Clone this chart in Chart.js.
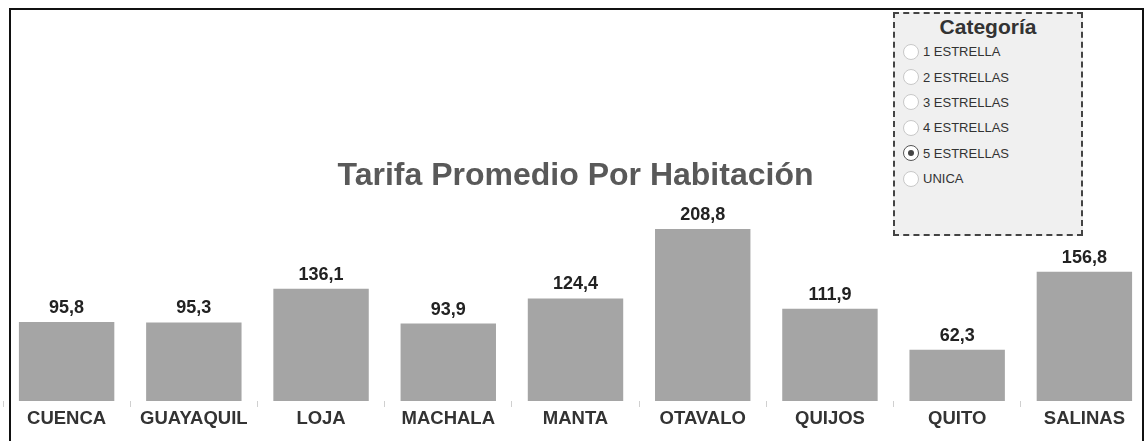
<!DOCTYPE html>
<html>
<head>
<meta charset="utf-8">
<script src="https://cdn.jsdelivr.net/npm/chart.js@4"></script>
<style>
  html, body { margin: 0; padding: 0; background: #fff; overflow: hidden; }
  body { width: 1146px; height: 441px; position: relative; font-family: 'Liberation Sans', Arial, sans-serif; }
  #frame { position: absolute; left: 9px; top: 8px; width: 1135px; height: 460px; border: 2px solid #111; box-sizing: border-box; }
  #wrap { position: absolute; left: 3px; top: 0; width: 1145px; height: 441px; }
  #filter { position: absolute; left: 893px; top: 12px; width: 190px; height: 224px; box-sizing: border-box;
            background: #f0f0f0; border: 2px dashed #444; }
  #filter h3 { margin: 0; padding-top: 0; text-align: center; font-size: 21px; font-weight: bold; color: #333; line-height: 25px; }
  #filter ul { list-style: none; margin: 0; padding: 0 0 0 8px; }
  #filter li { height: 25.4px; display: flex; align-items: center; font-size: 13px; color: #333; }
  #filter .dot { width: 16px; height: 16px; border-radius: 50%; border: 1px solid #c8c8c8; background: #fff;
                 box-sizing: border-box; margin-right: 4px; position: relative; }
  #filter .dot.on { border-color: #555; }
  #filter .dot.on::after { content: ''; position: absolute; left: 4px; top: 4px; width: 6px; height: 6px; border-radius: 50%; background: #444; }
</style>
</head>
<body>
<div id="frame"></div>
<div id="wrap"><canvas id="chart"></canvas></div>
<div id="filter">
  <h3>Categoría</h3>
  <ul id="opts"></ul>
</div>
<script>
const cities = ['CUENCA', 'GUAYAQUIL', 'LOJA', 'MACHALA', 'MANTA', 'OTAVALO', 'QUIJOS', 'QUITO', 'SALINAS'];
const tarifa = [95.8, 95.3, 136.1, 93.9, 124.4, 208.8, 111.9, 62.3, 156.8];
const categorias = ['1 ESTRELLA', '2 ESTRELLAS', '3 ESTRELLAS', '4 ESTRELLAS', '5 ESTRELLAS', 'UNICA'];
const selected = '5 ESTRELLAS';

const opts = document.getElementById('opts');
categorias.forEach(c => {
    const li = document.createElement('li');
    li.innerHTML = '<span class="dot' + (c === selected ? ' on' : '') + '"></span>' + c;
    opts.appendChild(li);
});

const fmt = v => v.toFixed(1).replace('.', ',');

const valueLabels = {
    id: 'valueLabels',
    afterDatasetsDraw(chart) {
        const ctx = chart.ctx;
        const meta = chart.getDatasetMeta(0);
        ctx.save();
        ctx.font = "bold 18px 'Liberation Sans', Arial, sans-serif";
        ctx.fillStyle = '#222';
        ctx.textAlign = 'center';
        ctx.textBaseline = 'bottom';
        meta.data.forEach((bar, i) => {
            ctx.fillText(fmt(tarifa[i]), bar.x, bar.y - 5);
        });
        ctx.restore();
    }
};

const ctx = document.getElementById('chart').getContext('2d');
new Chart(ctx, {
    type: 'bar',
    data: {
        labels: cities,
        datasets: [{
            data: tarifa,
            backgroundColor: '#a5a5a5',
            barPercentage: 0.75,
            categoryPercentage: 1,
        }],
    },
    options: {
        responsive: true,
        maintainAspectRatio: false,
        animation: false,
        layout: { padding: 0 },
        plugins: {
            legend: { display: false },
            tooltip: { enabled: false },
            title: {
                display: true,
                text: 'Tarifa Promedio Por Habitación',
                color: '#595959',
                font: { family: "'Liberation Sans', Arial, sans-serif", size: 32, weight: 'bold', lineHeight: 1.0 },
                padding: { top: 160, bottom: 10.4 },
            },
        },
        scales: {
            x: {
                border: { display: false },
                grid: { drawOnChartArea: false, color: '#d0d0d0', tickLength: 6 },
                ticks: {
                    color: '#333',
                    padding: 1,
                    font: { family: "'Liberation Sans', Arial, sans-serif", size: 18.5, weight: 'bold' },
                },
                afterFit: s => { s.height = 40; },
            },
            y: {
                display: false,
                min: 0,
                max: 241,
            },
        },
    },
    plugins: [valueLabels],
});
</script>
</body>
</html>
